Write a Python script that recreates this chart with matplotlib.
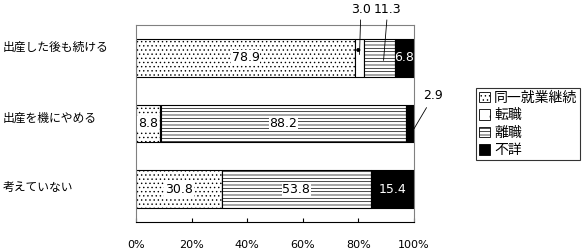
import matplotlib.pyplot as plt
import matplotlib.transforms as mtransforms
from matplotlib.patches import Patch
import numpy as np

plt.rcParams['font.family'] = ['Noto Sans CJK JP', 'DejaVu Sans']
plt.rcParams['hatch.linewidth'] = 0.5

categories = ["出産した後も続ける", "出産を機にやめる", "考えていない"]
series_names = ["同一就業継続", "転職", "離職", "不詳"]
same_job = [78.9, 8.8, 30.8]
job_change = [3.0, 0.1, 0.0]
quit_job = [11.3, 88.2, 53.8]
unknown = [6.8, 2.9, 15.4]
tick_labels = ["0%", "20%", "40%", "60%", "80%", "100%"]

series = [same_job, job_change, quit_job, unknown]
hatches = ["....", ".", "-----", None]
faces = ["white", "white", "white", "black"]
# (row, series) pairs whose labels sit outside the bar
outside = {(0, 1), (0, 2), (1, 1), (1, 3), (2, 1)}

fig = plt.figure(figsize=(5.87, 2.5), dpi=100)
ax = fig.add_axes([136 / 587, 1 - 222 / 250, 278 / 587, 197 / 250])

y = np.arange(len(categories))
left = np.zeros(len(categories))
for vals, h, fc in zip(series, hatches, faces):
    ax.barh(y, vals, left=left, height=0.57, color=fc, edgecolor="black",
            linewidth=0.8, hatch=h)
    left += np.array(vals)

ax.set_xlim(0, 100)
ax.set_ylim(2.5, -0.5)
ax.set_xticks(np.linspace(0, 100, 6))
ax.set_xticklabels(tick_labels, fontsize=8, family="DejaVu Sans")
ax.tick_params(axis="x", direction="in", length=3, pad=13, color="black")
ax.set_yticks([])
for s in ["left", "top", "right"]:
    ax.spines[s].set_color("#808080")
    ax.spines[s].set_linewidth(0.8)
ax.spines["bottom"].set_color("black")

# category labels at the far left of the figure
trans = mtransforms.blended_transform_factory(fig.transFigure, ax.transData)
label_dy = [-0.16, -0.08, -0.03]
for i, c in enumerate(categories):
    ax.text(3 / 587, y[i] + label_dy[i], c, transform=trans, ha="left",
            va="center", fontsize=8.5)

box = dict(facecolor="white", edgecolor="none", pad=0.6)
num_font = dict(fontsize=9, family="DejaVu Sans", ha="center", va="center")

# inside labels
for i in range(len(categories)):
    start = 0.0
    for k, vals in enumerate(series):
        v = vals[i]
        mid = start + v / 2
        start += v
        if (i, k) in outside:
            continue
        if k == 3:
            ax.text(mid, y[i], f"{v:.1f}", color="white", **num_font)
        else:
            ax.text(mid, y[i], f"{v:.1f}", color="black", bbox=box, **num_font)

# small segments labelled outside with leader lines
line = dict(arrowstyle="-", color="black", lw=0.6, shrinkA=1, shrinkB=0)
seg_mid_30 = same_job[0] + job_change[0] / 2
ax.annotate(f"{job_change[0]:.1f}", xy=(seg_mid_30, y[0] - 0.05),
            xytext=(seg_mid_30 + 0.5, -0.74), annotation_clip=False,
            arrowprops=line, **num_font)
seg_mid_113 = same_job[0] + job_change[0] + quit_job[0] / 2
ax.annotate(f"{quit_job[0]:.1f}", xy=(seg_mid_113 + 1.5, y[0] + 0.04),
            xytext=(seg_mid_113 + 3, -0.74), annotation_clip=False,
            arrowprops=line, **num_font)
ax.annotate(f"{unknown[1]:.1f}", xy=(100, y[1] + 0.08),
            xytext=(107, y[1] - 0.42), annotation_clip=False,
            arrowprops=dict(line, shrinkA=2), **num_font)

handles = [Patch(facecolor=fc, edgecolor="black", hatch=h, linewidth=0.6)
           for h, fc in zip(hatches, faces)]
leg = fig.legend(handles, series_names, loc="upper left",
                 bbox_to_anchor=(476 / 587, 1 - 88 / 250), fontsize=10,
                 frameon=True, fancybox=False, edgecolor="black",
                 handlelength=0.8, handleheight=0.8, handletextpad=0.3,
                 labelspacing=0.25, borderpad=0.2, borderaxespad=0)
leg.get_frame().set_linewidth(0.8)

fig.savefig("out.png", dpi=100)
